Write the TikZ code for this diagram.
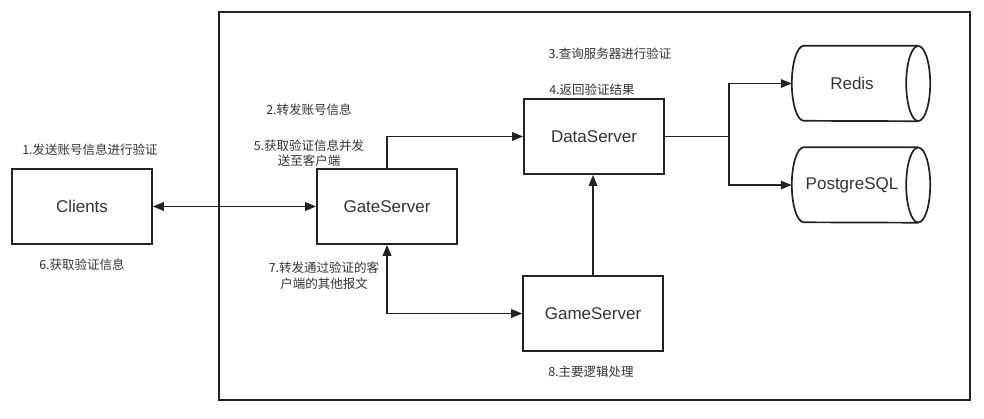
\documentclass[tikz,border=0pt]{standalone}
\usepackage{fontspec}
\setmainfont{Liberation Sans}
\newfontfamily\cjk{Noto Sans CJK SC}
\usetikzlibrary{arrows.meta,calc}
\definecolor{ln}{HTML}{222222}
\definecolor{tx}{HTML}{333333}
\newcommand\dbcyl[1]{%
  \draw[conn] ($(#1.north east)+(-12,0)$) -- ($(#1.north west)+(12,0)$)
    arc[start angle=90, end angle=270, x radius=12pt, y radius=37.5pt]
    -- ($(#1.south east)+(-12,0)$);
  \draw[conn] ($(#1.east)+(-12,0)$) ellipse[x radius=12pt, y radius=37.5pt];
}
\begin{document}
\begin{tikzpicture}[x=1pt,y=-1pt,
  >={Triangle[length=11pt,width=8.5pt]},
  conn/.style={draw=ln, line width=1.7pt},
  box/.style={conn, minimum width=140pt, minimum height=75pt, inner sep=0pt,
    font=\fontsize{17}{20}\selectfont, text=tx},
  db/.style={minimum width=138pt, minimum height=75pt, inner sep=0pt},
  dbtext/.style={font=\fontsize{17}{20}\selectfont, text=tx, inner sep=0pt},
  lbl/.style={font=\cjk\fontsize{12.5}{15.5}\selectfont, text=tx, align=center, inner sep=0pt}
]
\useasboundingbox (0,0) rectangle (984,418);
% container
\node[conn, minimum width=751pt, minimum height=388pt, inner sep=0pt] (frame) at (594.5,206) {};
% boxes
\node[box] (clients) at (82,206.5) {Clients};
\node[box] (gate) at (387,206.5) {GateServer};
\node[box] (data) at (594,136.5) {DataServer};
\node[box] (game) at (593,313.5) {GameServer};
% databases
\node[db] (redis) at (861,83.5) {};
\node[db] (pg) at (861,185) {};
\dbcyl{redis}
\dbcyl{pg}
\node[dbtext] (redist) at ($(redis.center)+(-9,0)$) {Redis};
\node[dbtext] (pgt) at ($(pg.center)+(-9,0)$) {PostgreSQL};
% connectors
\draw[conn,<->] (clients) -- (gate);
\draw[conn,->] (gate.north) |- (data.west);
\draw[conn] (data.east) -- ($(data.east)+(64,0)$) coordinate (j);
\draw[conn,->] (j) |- (redis.west);
\draw[conn,->] (j) |- (pg.west);
\draw[conn,->] (game.north) -- (game.north |- data.south);
\draw[conn,<->] (gate.south) |- (game.west);
% labels
\node[lbl] (l1) at (90,150) {1.发送账号信息进行验证};
\node[lbl] (l6) at (82,265) {6.获取验证信息};
\node[lbl] (l2) at (309,110) {2.转发账号信息};
\node[lbl] (l5) at (309,153) {5.获取验证信息并发\\送至客户端};
\node[lbl] (l7) at (324,275.5) {7.转发通过验证的客\\户端的其他报文};
\node[lbl] (l3) at (610,54) {3.查询服务器进行验证};
\node[lbl] (l4) at (592,90) {4.返回验证结果};
\node[lbl] (l8) at (591,372) {8.主要逻辑处理};
\end{tikzpicture}
\end{document}
